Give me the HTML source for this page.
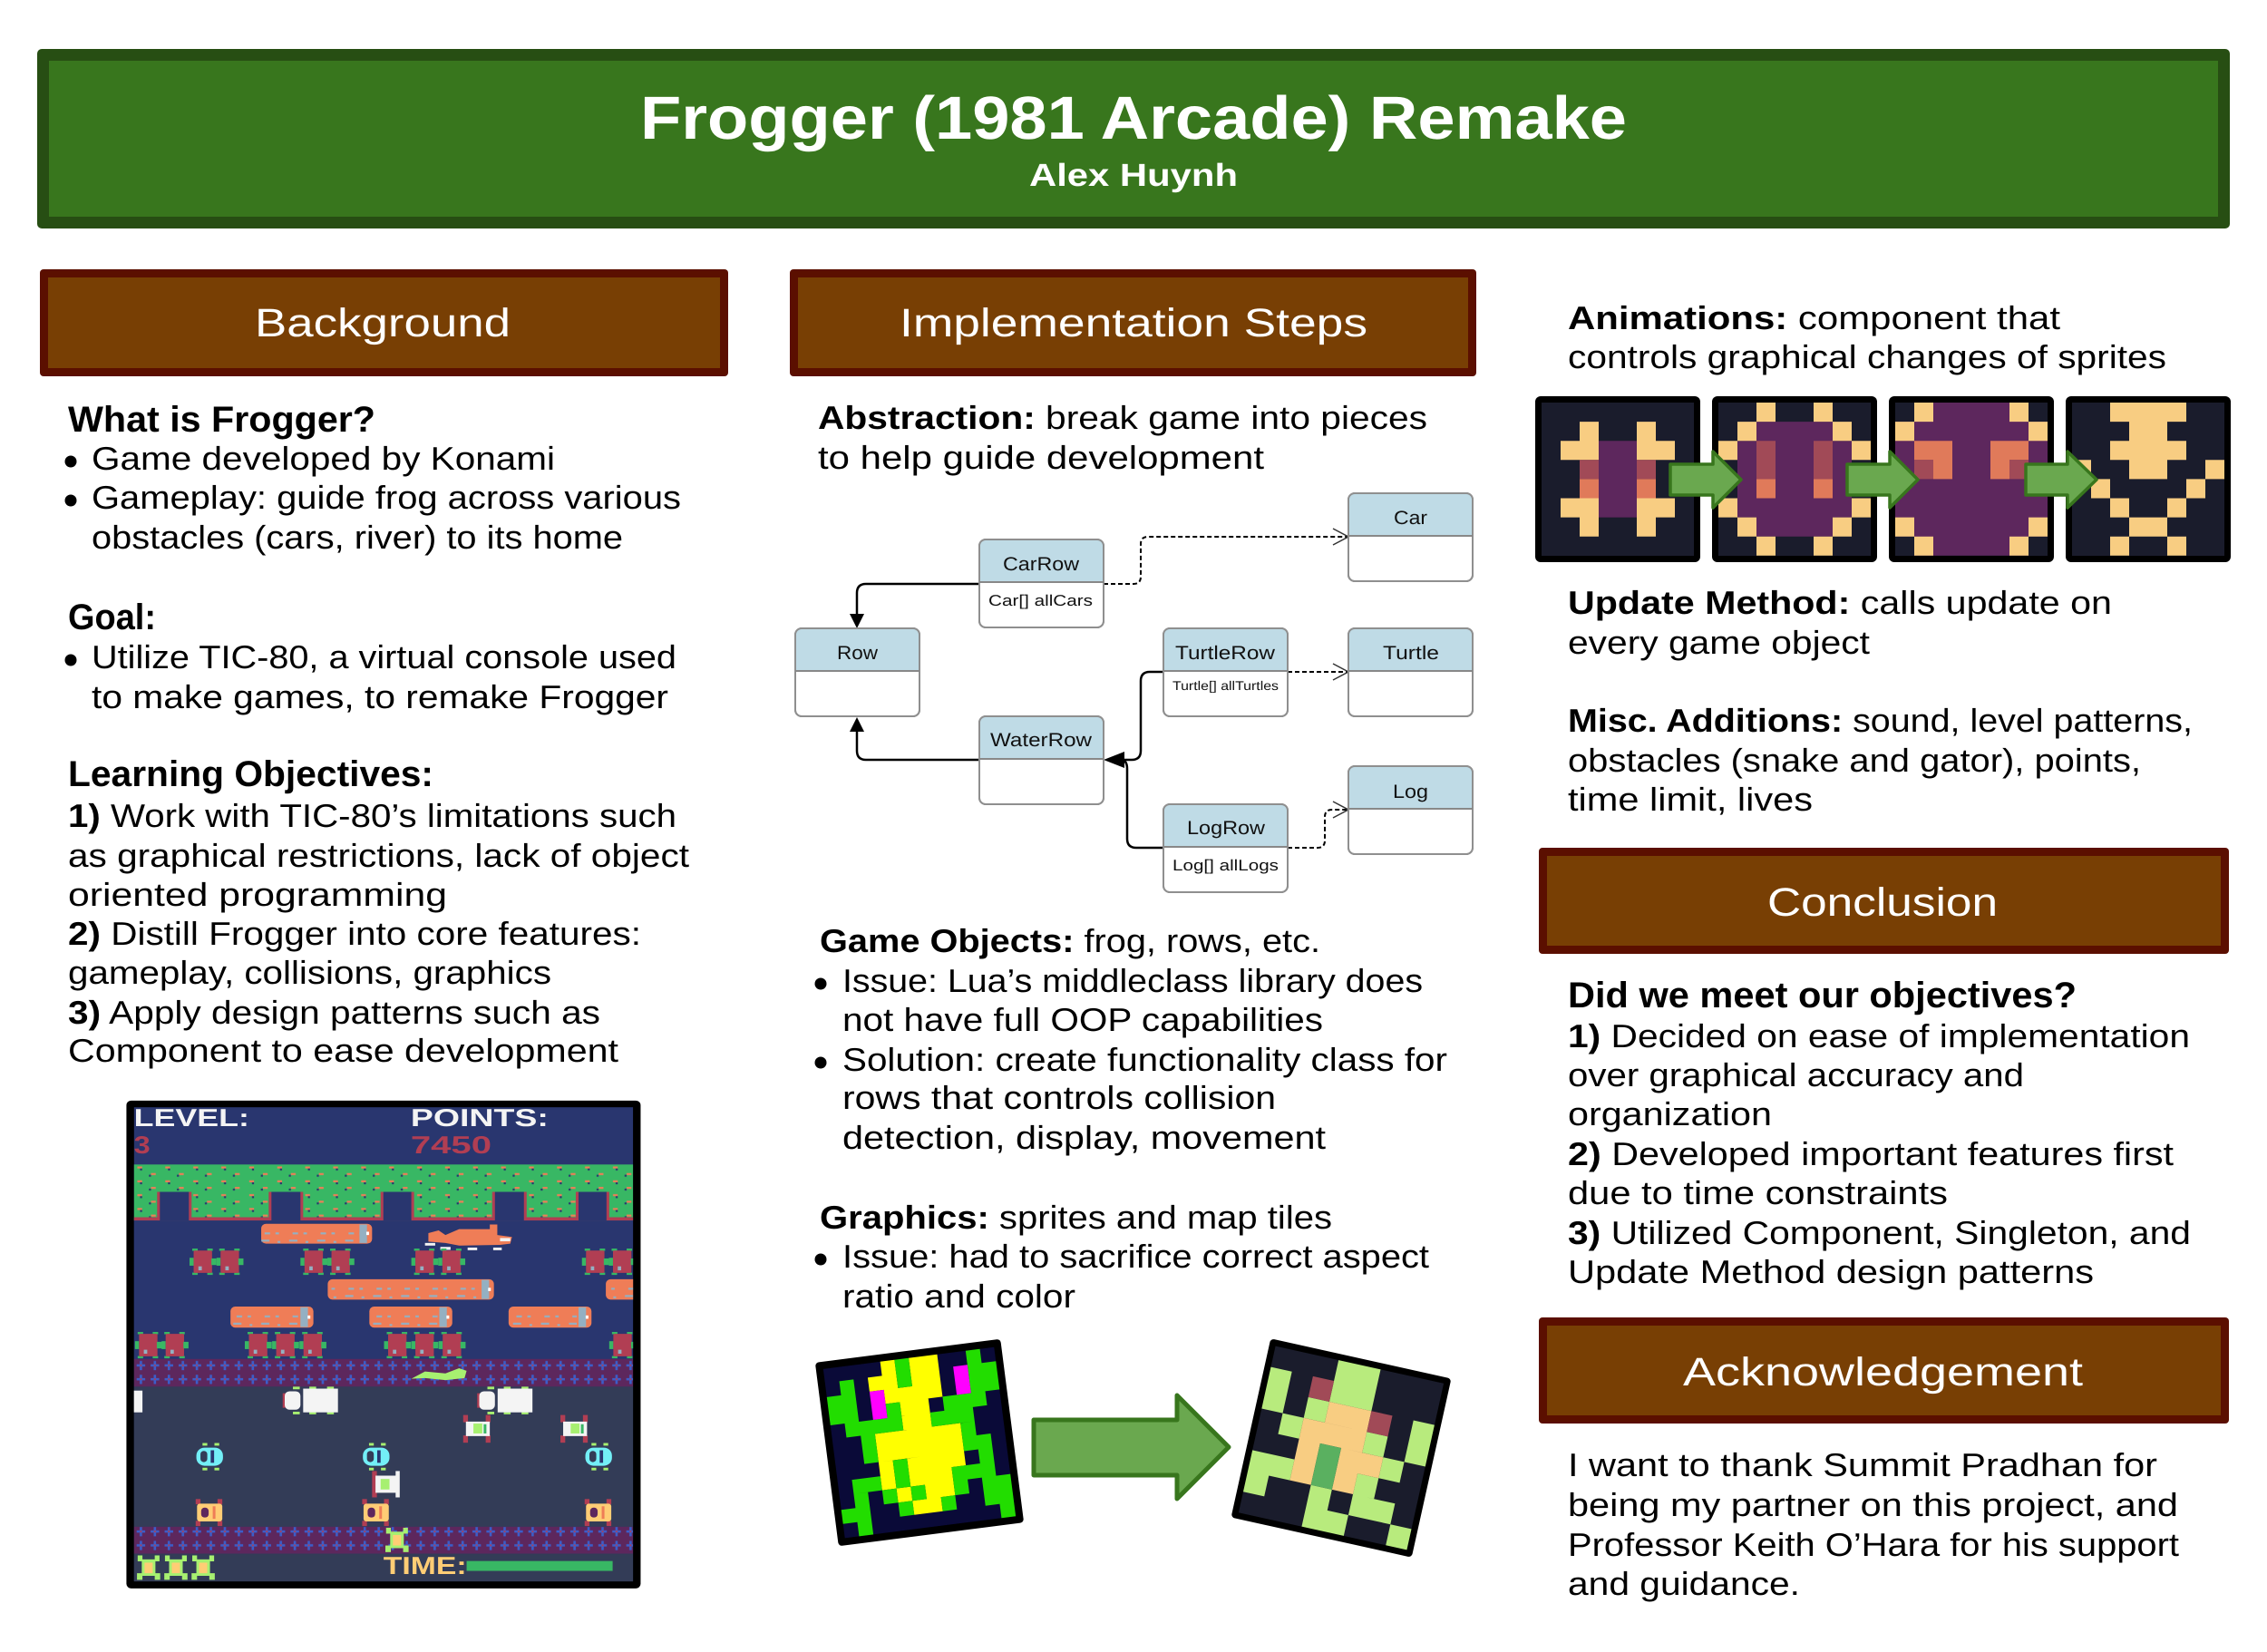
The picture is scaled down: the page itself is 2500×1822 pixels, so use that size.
<!DOCTYPE html>
<html><head><meta charset="utf-8"><style>
html,body{margin:0;padding:0;background:#fff;}
svg{display:block;}
text{font-family:"Liberation Sans",Arial,sans-serif;}
</style></head><body>
<svg width="2500" height="1822" viewBox="0 0 2500 1822" xmlns="http://www.w3.org/2000/svg" text-rendering="geometricPrecision">
<defs>
<pattern id="hedge" patternUnits="userSpaceOnUse" x="47" y="232" width="82" height="42">
<rect width="82" height="42" fill="#38b764"/>
<rect x="10" y="6" width="14" height="6" fill="#ef7d57"/><rect x="18" y="12" width="6" height="6" fill="#29366f"/>
<rect x="50" y="26" width="14" height="6" fill="#ef7d57"/><rect x="44" y="31" width="6" height="6" fill="#29366f"/>
</pattern>
<pattern id="med" patternUnits="userSpaceOnUse" x="47" y="822" width="41" height="42">
<rect width="41" height="42" fill="#5d275d"/>
<rect x="17" y="6" width="7" height="28" fill="#3b5dc9"/><rect x="8" y="16" width="25" height="7" fill="#3b5dc9"/>
<rect x="18" y="17" width="5" height="5" fill="#b13e53"/>
</pattern>
<pattern id="logd" patternUnits="userSpaceOnUse" x="0" y="0" width="82" height="84">
<rect x="20" y="18" width="16" height="6" fill="#94b0c2"/><rect x="52" y="18" width="10" height="6" fill="#94b0c2"/>
<rect x="10" y="40" width="24" height="6" fill="#94b0c2"/><rect x="58" y="44" width="8" height="6" fill="#94b0c2"/>
<rect x="30" y="62" width="18" height="6" fill="#94b0c2"/><rect x="64" y="60" width="10" height="6" fill="#94b0c2"/>
</pattern>
<g id="tur">
<rect x="0" y="28" width="12" height="24" fill="#38b764"/>
<rect x="8" y="0" width="16" height="7" fill="#38b764"/><rect x="52" y="0" width="16" height="7" fill="#38b764"/>
<rect x="8" y="73" width="16" height="7" fill="#38b764"/><rect x="52" y="73" width="16" height="7" fill="#38b764"/>
<rect x="12" y="6" width="54" height="68" rx="4" fill="#b13e53"/>
<rect x="26" y="54" width="10" height="12" fill="#94b0c2"/>
<rect x="64" y="30" width="15" height="20" fill="#38b764"/>
</g>
<g id="bcar">
<rect x="20" y="0" width="14" height="8" fill="#a7f070"/><rect x="55" y="0" width="14" height="8" fill="#a7f070"/>
<rect x="20" y="75" width="14" height="8" fill="#a7f070"/><rect x="55" y="75" width="14" height="8" fill="#a7f070"/>
<rect x="2" y="14" width="78" height="55" rx="24" fill="#73eff7"/>
<rect x="14" y="24" width="20" height="34" rx="10" fill="#333c57"/>
<rect x="44" y="22" width="10" height="38" fill="#29366f"/>
</g>
<g id="ycar">
<rect x="0" y="0" width="14" height="16" fill="#b13e53"/><rect x="64" y="0" width="14" height="16" fill="#b13e53"/>
<rect x="0" y="66" width="14" height="16" fill="#b13e53"/><rect x="64" y="66" width="14" height="16" fill="#b13e53"/>
<rect x="4" y="14" width="74" height="54" rx="8" fill="#ffcd75"/>
<rect x="16" y="26" width="22" height="30" rx="10" fill="#5d275d"/>
<rect x="50" y="22" width="8" height="38" fill="#ef7d57"/>
</g>
<g id="rcar">
<rect x="0" y="0" width="14" height="22" fill="#b13e53"/><rect x="66" y="0" width="14" height="22" fill="#b13e53"/>
<rect x="0" y="62" width="14" height="22" fill="#b13e53"/><rect x="66" y="62" width="14" height="22" fill="#b13e53"/>
<rect x="8" y="20" width="70" height="44" fill="#f4f4f4"/>
<rect x="30" y="26" width="26" height="30" fill="#a7f070"/>
<rect x="60" y="28" width="8" height="28" fill="#38b764"/>
</g>
<g id="truck">
<rect x="30" y="0" width="20" height="8" fill="#a7f070"/><rect x="78" y="0" width="20" height="8" fill="#a7f070"/><rect x="130" y="0" width="20" height="8" fill="#a7f070"/>
<rect x="30" y="76" width="20" height="8" fill="#a7f070"/><rect x="78" y="76" width="20" height="8" fill="#a7f070"/><rect x="130" y="76" width="20" height="8" fill="#a7f070"/>
<rect x="0" y="20" width="10" height="44" fill="#b13e53"/>
<rect x="6" y="14" width="46" height="56" rx="14" fill="#f4f4f4"/>
<rect x="60" y="6" width="102" height="72" fill="#f4f4f4"/>
</g>
<g id="frg">
<rect x="8" y="4" width="14" height="18" fill="#a7f070"/><rect x="58" y="4" width="14" height="18" fill="#a7f070"/>
<rect x="20" y="16" width="40" height="50" fill="#a7f070"/>
<rect x="28" y="26" width="24" height="32" fill="#ffcd75"/>
<rect x="6" y="58" width="16" height="20" fill="#a7f070"/><rect x="58" y="58" width="16" height="20" fill="#a7f070"/>
</g>
<clipPath id="scr"><rect x="47" y="58" width="1463" height="1439"/></clipPath>
</defs>

<!-- Title banner -->
<rect x="41" y="54" width="2418" height="198" rx="5" fill="#274e13"/>
<rect x="54" y="67" width="2392" height="172" fill="#38761d"/>
<text x="706" y="153" font-size="67" font-weight="bold" fill="#fff" textLength="1088" lengthAdjust="spacingAndGlyphs">Frogger (1981 Arcade) Remake</text>
<text x="1135" y="205" font-size="35" font-weight="bold" fill="#fff" textLength="230" lengthAdjust="spacingAndGlyphs">Alex Huynh</text>

<!-- Section headers -->
<rect x="44" y="297" width="759" height="118" rx="4" fill="#5b0f00"/>
<rect x="53" y="306" width="741" height="100" fill="#783f04"/>
<text x="281" y="371" font-size="44" fill="#fff" textLength="282" lengthAdjust="spacingAndGlyphs">Background</text>

<rect x="871" y="297" width="757" height="118" rx="4" fill="#5b0f00"/>
<rect x="880" y="306" width="739" height="100" fill="#783f04"/>
<text x="992" y="371" font-size="44" fill="#fff" textLength="516" lengthAdjust="spacingAndGlyphs">Implementation Steps</text>

<rect x="1697" y="935" width="761" height="117" rx="4" fill="#5b0f00"/>
<rect x="1706" y="944" width="743" height="99" fill="#783f04"/>
<text x="1949" y="1010" font-size="44" fill="#fff" textLength="254" lengthAdjust="spacingAndGlyphs">Conclusion</text>

<rect x="1697" y="1453" width="761" height="117" rx="4" fill="#5b0f00"/>
<rect x="1706" y="1462" width="743" height="99" fill="#783f04"/>
<text x="1856" y="1528" font-size="44" fill="#fff" textLength="441" lengthAdjust="spacingAndGlyphs">Acknowledgement</text>

<!-- Left column text -->
<g fill="#000" font-size="36">
<text x="75" y="476" font-size="40" font-weight="bold" textLength="339" lengthAdjust="spacingAndGlyphs">What is Frogger?</text>
<circle cx="78" cy="509" r="6.5"/>
<text x="101" y="518" textLength="511" lengthAdjust="spacingAndGlyphs">Game developed by Konami</text>
<circle cx="78" cy="552" r="6.5"/>
<text x="101" y="561" textLength="650" lengthAdjust="spacingAndGlyphs">Gameplay: guide frog across various</text>
<text x="101" y="605" textLength="586" lengthAdjust="spacingAndGlyphs">obstacles (cars, river) to its home</text>
<text x="75" y="694" font-size="40" font-weight="bold" textLength="97" lengthAdjust="spacingAndGlyphs">Goal:</text>
<circle cx="78" cy="728" r="6.5"/>
<text x="101" y="737" textLength="645" lengthAdjust="spacingAndGlyphs">Utilize TIC-80, a virtual console used</text>
<text x="101" y="781" textLength="636" lengthAdjust="spacingAndGlyphs">to make games, to remake Frogger</text>
<text x="75" y="867" font-size="40" font-weight="bold" textLength="403" lengthAdjust="spacingAndGlyphs">Learning Objectives:</text>
<text x="75" y="912" textLength="671" lengthAdjust="spacingAndGlyphs"><tspan font-weight="bold">1)</tspan> Work with TIC-80’s limitations such</text>
<text x="75" y="956" textLength="685" lengthAdjust="spacingAndGlyphs">as graphical restrictions, lack of object</text>
<text x="75" y="999" textLength="418" lengthAdjust="spacingAndGlyphs">oriented programming</text>
<text x="75" y="1042" textLength="632" lengthAdjust="spacingAndGlyphs"><tspan font-weight="bold">2)</tspan> Distill Frogger into core features:</text>
<text x="75" y="1085" textLength="533" lengthAdjust="spacingAndGlyphs">gameplay, collisions, graphics</text>
<text x="75" y="1129" textLength="587" lengthAdjust="spacingAndGlyphs"><tspan font-weight="bold">3)</tspan> Apply design patterns such as</text>
<text x="75" y="1171" textLength="607" lengthAdjust="spacingAndGlyphs">Component to ease development</text>
</g>

<!-- Game screenshot -->
<g transform="translate(130,1200) scale(0.37628,0.36352)">
<rect x="25" y="38" width="1507" height="1480" rx="14" fill="#000"/>
<g clip-path="url(#scr)">
<rect x="47" y="58" width="1463" height="1439" fill="#29366f"/>
<text x="47" y="115" font-family="Liberation Mono" font-weight="bold" font-size="75" fill="#f4f4f4" textLength="338" lengthAdjust="spacingAndGlyphs">LEVEL:</text>
<text x="858" y="115" font-family="Liberation Mono" font-weight="bold" font-size="75" fill="#f4f4f4" textLength="404" lengthAdjust="spacingAndGlyphs">POINTS:</text>
<text x="47" y="198" font-family="Liberation Mono" font-weight="bold" font-size="75" fill="#b13e53" textLength="48" lengthAdjust="spacingAndGlyphs">3</text>
<text x="858" y="198" font-family="Liberation Mono" font-weight="bold" font-size="75" fill="#b13e53" textLength="237" lengthAdjust="spacingAndGlyphs">7450</text>
<!-- hedge -->
<rect x="47" y="232" width="1463" height="170" fill="url(#hedge)"/>
<rect x="47" y="392" width="1463" height="10" fill="#b13e53"/>
<g fill="#b13e53">
<rect x="115" y="315" width="101" height="87"/><rect x="442" y="315" width="101" height="87"/><rect x="770" y="315" width="98" height="87"/><rect x="1097" y="315" width="101" height="87"/><rect x="1342" y="315" width="98" height="87"/>
</g>
<g fill="#29366f">
<rect x="123" y="315" width="85" height="87"/><rect x="450" y="315" width="85" height="87"/><rect x="778" y="315" width="82" height="87"/><rect x="1105" y="315" width="85" height="87"/><rect x="1350" y="315" width="82" height="87"/>
</g>
<!-- water -->
<rect x="47" y="402" width="1463" height="420" fill="#29366f"/>
<g>
<rect x="420" y="412" width="325" height="60" rx="14" fill="#ef7d57"/><rect x="420" y="412" width="290" height="60" fill="url(#logd)"/><rect x="708" y="414" width="22" height="56" fill="#94b0c2"/><rect x="728" y="436" width="8" height="10" fill="#fff"/>
<rect x="615" y="580" width="487" height="62" rx="14" fill="#ef7d57"/><rect x="620" y="580" width="440" height="62" fill="url(#logd)"/><rect x="1066" y="582" width="22" height="58" fill="#94b0c2"/><rect x="1085" y="606" width="8" height="10" fill="#fff"/>
<rect x="1430" y="580" width="100" height="62" rx="14" fill="#ef7d57"/><rect x="1440" y="580" width="70" height="62" fill="url(#logd)"/>
<rect x="330" y="663" width="243" height="64" rx="14" fill="#ef7d57"/><rect x="335" y="663" width="195" height="64" fill="url(#logd)"/><rect x="535" y="665" width="22" height="60" fill="#94b0c2"/><rect x="556" y="690" width="8" height="10" fill="#fff"/>
<rect x="737" y="663" width="243" height="64" rx="14" fill="#ef7d57"/><rect x="742" y="663" width="195" height="64" fill="url(#logd)"/><rect x="942" y="665" width="22" height="60" fill="#94b0c2"/><rect x="963" y="690" width="8" height="10" fill="#fff"/>
<rect x="1145" y="663" width="243" height="64" rx="14" fill="#ef7d57"/><rect x="1150" y="663" width="195" height="64" fill="url(#logd)"/><rect x="1350" y="665" width="22" height="60" fill="#94b0c2"/><rect x="1371" y="690" width="8" height="10" fill="#fff"/>
</g>
<polygon points="910,440 940,432 960,446 1000,428 1090,428 1090,414 1112,414 1112,446 1155,452 1150,472 1120,476 1000,478 960,470 910,466" fill="#ef7d57"/>
<rect x="900" y="470" width="30" height="8" fill="#f4f4f4"/><rect x="945" y="482" width="30" height="9" fill="#f4f4f4"/><rect x="1025" y="484" width="28" height="8" fill="#f4f4f4"/><rect x="1100" y="484" width="25" height="8" fill="#f4f4f4"/><rect x="1120" y="455" width="30" height="10" fill="#f4f4f4"/>
<use href="#tur" x="210" y="487"/><use href="#tur" x="289" y="487"/>
<use href="#tur" x="535" y="487"/><use href="#tur" x="614" y="487"/>
<use href="#tur" x="860" y="487"/><use href="#tur" x="939" y="487"/>
<use href="#tur" x="1360" y="487"/><use href="#tur" x="1439" y="487"/>
<use href="#tur" x="50" y="740"/><use href="#tur" x="128" y="740"/>
<use href="#tur" x="372" y="740"/><use href="#tur" x="452" y="740"/><use href="#tur" x="532" y="740"/>
<use href="#tur" x="780" y="740"/><use href="#tur" x="860" y="740"/><use href="#tur" x="940" y="740"/>
<use href="#tur" x="1440" y="740"/>
<!-- median -->
<rect x="47" y="822" width="1463" height="84" fill="url(#med)"/>
<polygon points="860,882 900,860 960,866 1000,850 1022,858 1016,880 960,886 900,880" fill="#a7f070"/>
<!-- road -->
<rect x="47" y="906" width="1463" height="425" fill="#333c57"/>
<rect x="40" y="918" width="32" height="66" fill="#f4f4f4"/>
<use href="#truck" x="483" y="906"/><use href="#truck" x="1053" y="906"/>
<use href="#rcar" x="1012" y="992"/><use href="#rcar" x="1297" y="992"/>
<use href="#bcar" x="228" y="1077"/><use href="#bcar" x="716" y="1077"/><use href="#bcar" x="1368" y="1077"/>
<rect x="745" y="1162" width="14" height="80" fill="#b13e53"/><rect x="755" y="1176" width="62" height="52" fill="#f4f4f4"/><rect x="770" y="1186" width="26" height="32" fill="#a7f070"/><rect x="814" y="1162" width="12" height="80" fill="#f4f4f4"/>
<use href="#ycar" x="228" y="1247"/><use href="#ycar" x="716" y="1247"/><use href="#ycar" x="1368" y="1247"/>
<rect x="47" y="1331" width="1463" height="82" fill="url(#med)"/>
<use href="#frg" x="778" y="1330"/>
<rect x="47" y="1413" width="1463" height="84" fill="#333c57"/>
<use href="#frg" x="50" y="1414"/><use href="#frg" x="130" y="1414"/><use href="#frg" x="210" y="1414"/>
<text x="778" y="1475" font-family="Liberation Mono" font-weight="bold" font-size="75" fill="#ffcd75" textLength="244" lengthAdjust="spacingAndGlyphs">TIME:</text>
<rect x="1022" y="1435" width="428" height="30" fill="#38b764"/>
</g>
</g>

<!-- Middle column text -->
<g fill="#000" font-size="36">
<text x="902" y="473" textLength="672" lengthAdjust="spacingAndGlyphs"><tspan font-weight="bold">Abstraction:</tspan> break game into pieces</text>
<text x="902" y="517" textLength="492" lengthAdjust="spacingAndGlyphs">to help guide development</text>
<text x="904" y="1050" textLength="552" lengthAdjust="spacingAndGlyphs"><tspan font-weight="bold">Game Objects:</tspan> frog, rows, etc.</text>
<circle cx="905" cy="1085" r="6.5"/>
<text x="929" y="1094" textLength="640" lengthAdjust="spacingAndGlyphs">Issue: Lua’s middleclass library does</text>
<text x="929" y="1137" textLength="530" lengthAdjust="spacingAndGlyphs">not have full OOP capabilities</text>
<circle cx="905" cy="1172" r="6.5"/>
<text x="929" y="1181" textLength="667" lengthAdjust="spacingAndGlyphs">Solution: create functionality class for</text>
<text x="929" y="1223" textLength="478" lengthAdjust="spacingAndGlyphs">rows that controls collision</text>
<text x="929" y="1267" textLength="533" lengthAdjust="spacingAndGlyphs">detection, display, movement</text>
<text x="904" y="1355" textLength="565" lengthAdjust="spacingAndGlyphs"><tspan font-weight="bold">Graphics:</tspan> sprites and map tiles</text>
<circle cx="905" cy="1389" r="6.5"/>
<text x="929" y="1398" textLength="647" lengthAdjust="spacingAndGlyphs">Issue: had to sacrifice correct aspect</text>
<text x="929" y="1442" textLength="257" lengthAdjust="spacingAndGlyphs">ratio and color</text>
</g>

<!-- UML connectors -->
<g fill="none" stroke="#000" stroke-width="2.5">
<path d="M1080,644 H955 Q945,644 945,654 V679"/>
<path d="M1080,838 H955 Q945,838 945,828 V805"/>
<path d="M1283,741 H1268 Q1258,741 1258,751 V828 Q1258,838 1248,838 H1238"/>
<path d="M1283,935 H1253 Q1243,935 1243,925 V848 Q1243,838 1236,838"/>
</g>
<g fill="none" stroke="#000" stroke-width="2" stroke-dasharray="5,3">
<path d="M1217,644 H1250 Q1258,644 1258,636 V600 Q1258,592 1266,592 H1486"/>
<path d="M1420,741 H1486"/>
<path d="M1420,935 H1453 Q1461,935 1461,927 V901 Q1461,893 1469,893 H1486"/>
</g>
<g fill="none" stroke="#333" stroke-width="1.5">
<path d="M1470,583 L1487,592 L1470,601"/>
<path d="M1470,732 L1487,741 L1470,750"/>
<path d="M1470,884 L1487,893 L1470,902"/>
</g>
<g fill="#000">
<polygon points="945,693 937,677 953,677"/>
<polygon points="945,791 937,807 953,807"/>
<polygon points="1217,838 1240,829 1240,847"/>
</g>

<!-- UML boxes -->
<g stroke="#8f8f8f" stroke-width="2">
<g transform="translate(1487,544)"><rect width="137" height="97" rx="7" fill="#fff"/><path d="M0,47 V7 Q0,0 7,0 H130 Q137,0 137,7 V47 Z" fill="#bfdbe6" stroke="none"/><rect width="137" height="97" rx="7" fill="none"/><line x1="0" y1="47" x2="137" y2="47" stroke="#888"/></g>
<g transform="translate(1080,595)"><rect width="137" height="97" rx="7" fill="#fff"/><path d="M0,47 V7 Q0,0 7,0 H130 Q137,0 137,7 V47 Z" fill="#bfdbe6" stroke="none"/><rect width="137" height="97" rx="7" fill="none"/><line x1="0" y1="47" x2="137" y2="47" stroke="#888"/></g>
<g transform="translate(877,693)"><rect width="137" height="97" rx="7" fill="#fff"/><path d="M0,47 V7 Q0,0 7,0 H130 Q137,0 137,7 V47 Z" fill="#bfdbe6" stroke="none"/><rect width="137" height="97" rx="7" fill="none"/><line x1="0" y1="47" x2="137" y2="47" stroke="#888"/></g>
<g transform="translate(1283,693)"><rect width="137" height="97" rx="7" fill="#fff"/><path d="M0,47 V7 Q0,0 7,0 H130 Q137,0 137,7 V47 Z" fill="#bfdbe6" stroke="none"/><rect width="137" height="97" rx="7" fill="none"/><line x1="0" y1="47" x2="137" y2="47" stroke="#888"/></g>
<g transform="translate(1487,693)"><rect width="137" height="97" rx="7" fill="#fff"/><path d="M0,47 V7 Q0,0 7,0 H130 Q137,0 137,7 V47 Z" fill="#bfdbe6" stroke="none"/><rect width="137" height="97" rx="7" fill="none"/><line x1="0" y1="47" x2="137" y2="47" stroke="#888"/></g>
<g transform="translate(1080,790)"><rect width="137" height="97" rx="7" fill="#fff"/><path d="M0,47 V7 Q0,0 7,0 H130 Q137,0 137,7 V47 Z" fill="#bfdbe6" stroke="none"/><rect width="137" height="97" rx="7" fill="none"/><line x1="0" y1="47" x2="137" y2="47" stroke="#888"/></g>
<g transform="translate(1487,845)"><rect width="137" height="97" rx="7" fill="#fff"/><path d="M0,47 V7 Q0,0 7,0 H130 Q137,0 137,7 V47 Z" fill="#bfdbe6" stroke="none"/><rect width="137" height="97" rx="7" fill="none"/><line x1="0" y1="47" x2="137" y2="47" stroke="#888"/></g>
<g transform="translate(1283,887)"><rect width="137" height="97" rx="7" fill="#fff"/><path d="M0,47 V7 Q0,0 7,0 H130 Q137,0 137,7 V47 Z" fill="#bfdbe6" stroke="none"/><rect width="137" height="97" rx="7" fill="none"/><line x1="0" y1="47" x2="137" y2="47" stroke="#888"/></g>
</g>
<g fill="#111" font-size="21">
<text x="1537" y="578" textLength="37" lengthAdjust="spacingAndGlyphs">Car</text>
<text x="1106" y="629" textLength="84" lengthAdjust="spacingAndGlyphs">CarRow</text>
<text x="1090" y="668" font-size="17" textLength="115" lengthAdjust="spacingAndGlyphs">Car[] allCars</text>
<text x="923" y="727" textLength="45" lengthAdjust="spacingAndGlyphs">Row</text>
<text x="1296" y="727" textLength="110" lengthAdjust="spacingAndGlyphs">TurtleRow</text>
<text x="1293" y="761" font-size="14" textLength="117" lengthAdjust="spacingAndGlyphs">Turtle[] allTurtles</text>
<text x="1525" y="727" textLength="62" lengthAdjust="spacingAndGlyphs">Turtle</text>
<text x="1092" y="823" textLength="112" lengthAdjust="spacingAndGlyphs">WaterRow</text>
<text x="1536" y="880" textLength="39" lengthAdjust="spacingAndGlyphs">Log</text>
<text x="1309" y="920" textLength="86" lengthAdjust="spacingAndGlyphs">LogRow</text>
<text x="1293" y="960" font-size="17" textLength="117" lengthAdjust="spacingAndGlyphs">Log[] allLogs</text>
</g>

<!-- Frog before/after -->
<g transform="translate(1014,1591) rotate(-7.3)">
<rect x="-103" y="-102" width="206" height="204" rx="4" fill="#000"/>
<g transform="translate(-95,-94) scale(15.83,15.67)">
<rect width="12" height="12" fill="#0a0a38"/>
<path fill="#ffff00" d="M4 0h1v1h-1zM6 0h2v1h-2zM3 1h2v1h-2zM6 1h2v1h-2zM4 2h4v1h-4zM5 3h2v1h-2zM5 4h2v1h-2zM3 5h6v1h-6zM3 6h6v1h-6zM3 7h1v1h-1zM5 7h4v1h-4zM3 8h1v1h-1zM5 8h3v1h-3zM4 9h1v1h-1zM6 9h2v1h-2zM5 10h2v1h-2z"/>
<path fill="#22dd00" d="M5 0h1v1h-1zM10 0h1v1h-1zM1 1h1v1h-1zM5 1h1v1h-1zM10 1h2v1h-2zM0 2h2v1h-2zM10 2h2v1h-2zM0 3h2v1h-2zM4 3h1v1h-1zM8 3h3v1h-3zM1 4h4v1h-4zM7 4h3v1h-3zM2 5h1v1h-1zM9 5h1v1h-1zM2 6h1v1h-1zM9 6h2v1h-2zM4 7h1v1h-1zM10 7h1v1h-1zM1 8h2v1h-2zM4 8h1v1h-1zM8 8h3v1h-3zM1 9h1v1h-1zM3 9h1v1h-1zM5 9h1v1h-1zM8 9h1v1h-1zM10 9h2v1h-2zM0 10h2v1h-2zM4 10h1v1h-1zM7 10h1v1h-1zM10 10h2v1h-2zM1 11h1v1h-1zM11 11h1v1h-1z"/>
<path fill="#ff00ff" d="M9 1h1v1h-1zM3 2h1v1h-1zM9 2h1v1h-1zM3 3h1v1h-1z"/>
</g>
</g>
<polygon points="1140,1566 1298,1566 1298,1539 1355,1596 1298,1653 1298,1627 1140,1627" fill="#6aa84f" stroke="#38761d" stroke-width="5" stroke-linejoin="round"/>
<g transform="translate(1479,1597) rotate(12.5)">
<rect x="-102" y="-101" width="204" height="202" rx="4" fill="#000"/>
<g transform="translate(-95,-94) scale(23.75,23.5)">
<rect width="8" height="8" fill="#1a1c2c"/>
<path fill="#b8eb7d" d="M3 0h2v1h-2zM0 1h1v1h-1zM3 1h2v1h-2zM0 2h1v1h-1zM2 2h1v1h-1zM7 2h1v1h-1zM1 3h1v1h-1zM5 3h1v1h-1zM7 3h1v1h-1zM6 4h1v1h-1zM0 5h2v1h-2zM5 5h1v1h-1zM0 6h1v1h-1zM3 6h1v1h-1zM5 6h2v1h-2zM3 7h2v1h-2zM7 7h1v1h-1z"/>
<path fill="#f8cd82" d="M3 2h2v1h-2zM2 3h3v1h-3zM2 4h1v1h-1zM4 4h2v1h-2zM2 5h1v1h-1zM4 5h1v1h-1z"/>
<path fill="#5ab060" d="M3 4h1v2h-1z"/>
<path fill="#a14a57" d="M2 1h1v1h-1zM5 2h1v1h-1z"/>
</g>
</g>

<!-- Right column text -->
<g fill="#000" font-size="36">
<text x="1729" y="363" textLength="543" lengthAdjust="spacingAndGlyphs"><tspan font-weight="bold">Animations:</tspan> component that</text>
<text x="1729" y="406" textLength="660" lengthAdjust="spacingAndGlyphs">controls graphical changes of sprites</text>
<text x="1729" y="677" textLength="600" lengthAdjust="spacingAndGlyphs"><tspan font-weight="bold">Update Method:</tspan> calls update on</text>
<text x="1729" y="721" textLength="333" lengthAdjust="spacingAndGlyphs">every game object</text>
<text x="1729" y="807" textLength="689" lengthAdjust="spacingAndGlyphs"><tspan font-weight="bold">Misc. Additions:</tspan> sound, level patterns,</text>
<text x="1729" y="851" textLength="632" lengthAdjust="spacingAndGlyphs">obstacles (snake and gator), points,</text>
<text x="1729" y="894" textLength="270" lengthAdjust="spacingAndGlyphs">time limit, lives</text>
<text x="1729" y="1111" font-size="40" font-weight="bold" textLength="561" lengthAdjust="spacingAndGlyphs">Did we meet our objectives?</text>
<text x="1729" y="1155" textLength="686" lengthAdjust="spacingAndGlyphs"><tspan font-weight="bold">1)</tspan> Decided on ease of implementation</text>
<text x="1729" y="1198" textLength="503" lengthAdjust="spacingAndGlyphs">over graphical accuracy and</text>
<text x="1729" y="1241" textLength="225" lengthAdjust="spacingAndGlyphs">organization</text>
<text x="1729" y="1285" textLength="668" lengthAdjust="spacingAndGlyphs"><tspan font-weight="bold">2)</tspan> Developed important features first</text>
<text x="1729" y="1328" textLength="419" lengthAdjust="spacingAndGlyphs">due to time constraints</text>
<text x="1729" y="1372" textLength="687" lengthAdjust="spacingAndGlyphs"><tspan font-weight="bold">3)</tspan> Utilized Component, Singleton, and</text>
<text x="1729" y="1415" textLength="580" lengthAdjust="spacingAndGlyphs">Update Method design patterns</text>
<text x="1729" y="1628" textLength="650" lengthAdjust="spacingAndGlyphs">I want to thank Summit Pradhan for</text>
<text x="1729" y="1672" textLength="673" lengthAdjust="spacingAndGlyphs">being my partner on this project, and</text>
<text x="1729" y="1716" textLength="674" lengthAdjust="spacingAndGlyphs">Professor Keith O’Hara for his support</text>
<text x="1729" y="1759" textLength="256" lengthAdjust="spacingAndGlyphs">and guidance.</text>
</g>

<!-- Animation sprite tiles -->
<g>
<rect x="1693" y="437" width="182" height="183" rx="6" fill="#000"/><rect x="1700" y="444" width="168" height="169" fill="#1a1c2c"/>
<g transform="translate(1700,444) scale(21,21.1)">
<path fill="#5d275d" d="M3 2h2v4h-2z"/>
<path fill="#f8cd82" d="M2 1h1v1h-1zM5 1h1v1h-1zM1 2h2v1h-2zM5 2h2v1h-2zM1 5h2v1h-2zM5 5h2v1h-2zM2 6h1v1h-1zM5 6h1v1h-1z"/>
<path fill="#a14a57" d="M2 3h1v1h-1zM5 3h1v1h-1z"/>
<path fill="#e07a5a" d="M2 4h1v1h-1zM5 4h1v1h-1z"/>
</g>
<rect x="1888" y="437" width="182" height="183" rx="6" fill="#000"/><rect x="1895" y="444" width="168" height="169" fill="#1a1c2c"/>
<g transform="translate(1895,444) scale(21,21.1)">
<path fill="#5d275d" d="M2 1h4v1h-4zM1 2h6v4h-6zM2 6h4v1h-4z"/>
<path fill="#f8cd82" d="M2 0h1v1h-1zM5 0h1v1h-1zM1 1h1v1h-1zM6 1h1v1h-1zM0 2h1v1h-1zM7 2h1v1h-1zM0 5h1v1h-1zM7 5h1v1h-1zM1 6h1v1h-1zM6 6h1v1h-1zM2 7h1v1h-1zM5 7h1v1h-1z"/>
<path fill="#a14a57" d="M2 2h1v2h-1zM5 2h1v2h-1z"/>
<path fill="#e07a5a" d="M2 4h1v1h-1zM5 4h1v1h-1z"/>
</g>
<rect x="2083" y="437" width="182" height="183" rx="6" fill="#000"/><rect x="2090" y="444" width="168" height="169" fill="#1a1c2c"/>
<g transform="translate(2090,444) scale(21,21.1)">
<path fill="#5d275d" d="M1 0h6v8h-6zM0 1h8v6h-8z"/>
<path fill="#f8cd82" d="M1 0h1v1h-1zM6 0h1v1h-1zM0 1h1v1h-1zM7 1h1v1h-1zM0 6h1v1h-1zM7 6h1v1h-1zM1 7h1v1h-1zM6 7h1v1h-1z"/>
<path fill="#e07a5a" d="M1 2h2v1h-2zM2 3h1v1h-1zM5 2h2v1h-2zM5 3h1v1h-1z"/>
<path fill="#a14a57" d="M1 3h1v1h-1zM6 3h1v1h-1z"/>
</g>
<rect x="2278" y="437" width="182" height="183" rx="6" fill="#000"/><rect x="2285" y="444" width="168" height="169" fill="#1a1c2c"/>
<g transform="translate(2285,444) scale(21,21.1)">
<path fill="#f8cd82" d="M2 0h4v1h-4zM3 1h2v1h-2zM2 2h4v1h-4zM3 3h2v1h-2zM0 3h1v1h-1zM7 3h1v1h-1zM1 4h1v1h-1zM6 4h1v1h-1zM2 5h1v1h-1zM5 5h1v1h-1zM3 6h2v1h-2zM2 7h1v1h-1zM5 7h1v1h-1z"/>
</g>
<g fill="#6aa84f" stroke="#38761d" stroke-width="3.5" stroke-linejoin="round">
<polygon points="1842,512 1889,512 1889,498 1920,529 1889,560 1889,546 1842,546"/>
<polygon points="2037,512 2084,512 2084,498 2115,529 2084,560 2084,546 2037,546"/>
<polygon points="2234,512 2280,512 2280,498 2312,529 2280,560 2280,546 2234,546"/>
</g>
</g>
</svg>
</body></html>
